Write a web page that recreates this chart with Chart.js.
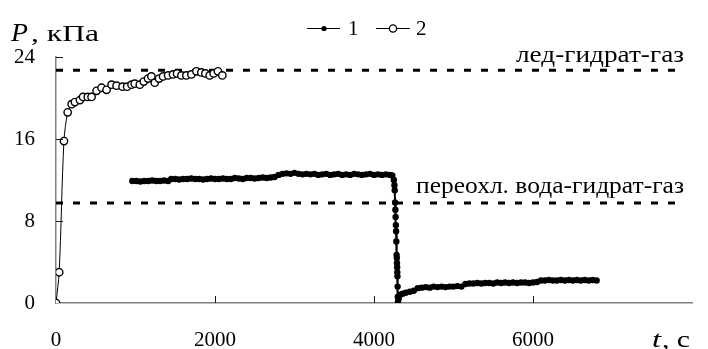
<!DOCTYPE html>
<html>
<head>
<meta charset="utf-8">
<script src="https://cdn.jsdelivr.net/npm/chart.js@4"></script>
<style>
  html, body { margin: 0; padding: 0; background: #fff; }
  #wrap { width: 708px; height: 349px; }
</style>
</head>
<body>
<div id="wrap"><canvas id="chart"></canvas></div>
<script>
// Series 1: time, s and pressure, kPa (black dots)
const series1T = [
  960, 1010, 1060, 1110, 1160, 1210, 1260, 1310, 1360, 1410,
  1450, 1500, 1550, 1600, 1650, 1700, 1750, 1800, 1850, 1900, 1950, 2000,
  2050, 2100, 2150, 2200, 2250, 2300, 2350, 2400, 2450, 2500, 2550, 2600,
  2650, 2700, 2750,
  2800, 2850, 2900, 2950, 3000, 3050, 3100, 3150, 3200, 3250, 3300, 3350,
  3400, 3450, 3500, 3550, 3600, 3650, 3700, 3750, 3800, 3850, 3900, 3950,
  4000, 4050, 4100, 4150, 4200, 4230,
  4250, 4257, 4261, 4265, 4269, 4272, 4275, 4278, 4281, 4284, 4287, 4289,
  4291, 4293, 4295, 4297, 4299, 4301,
  4310, 4330, 4360, 4400, 4450, 4500, 4550, 4600, 4650, 4700, 4750, 4800,
  4850, 4900, 4950, 5000, 5050, 5100, 5150, 5200, 5250, 5300, 5350, 5400,
  5450, 5500, 5550, 5600, 5650, 5700, 5750, 5800, 5850, 5900, 5950, 6000,
  6050, 6100, 6150, 6200, 6250, 6300, 6350, 6400, 6450, 6500, 6550, 6600,
  6650, 6700, 6750, 6800
];
const series1P = [
  11.9, 11.9, 11.85, 11.9, 11.9, 11.95, 11.9, 11.9, 11.95, 11.9,
  12.1, 12.1, 12.05, 12.1, 12.1, 12.15, 12.1, 12.1, 12.05, 12.1, 12.15, 12.1,
  12.1, 12.15, 12.1, 12.1, 12.2, 12.15, 12.1, 12.2, 12.2, 12.15, 12.2, 12.25,
  12.2, 12.25, 12.3,
  12.5, 12.6, 12.65, 12.6, 12.7, 12.6, 12.55, 12.6, 12.55, 12.6, 12.5, 12.55,
  12.6, 12.5, 12.55, 12.6, 12.5, 12.55, 12.5, 12.6, 12.55, 12.5, 12.55, 12.6,
  12.5, 12.55, 12.5, 12.55, 12.5, 12.45,
  12.0, 11.5, 11.0, 9.8, 9.1, 8.4, 7.6, 7.0, 6.0, 4.7, 4.4, 3.9,
  3.5, 3.0, 2.6, 1.6, 0.6, 0.1,
  0.4, 0.8, 0.9, 1.0, 1.1, 1.2, 1.45, 1.5, 1.55, 1.5, 1.6, 1.55,
  1.6, 1.55, 1.6, 1.6, 1.65, 1.6, 1.85, 1.9, 1.9, 1.95, 1.9, 1.95,
  1.95, 1.9, 2.0, 1.95, 2.0, 1.95, 2.0, 1.95, 2.0, 2.0, 1.95, 2.0,
  2.05, 2.2, 2.2, 2.25, 2.2, 2.2, 2.25, 2.2, 2.25, 2.2, 2.25, 2.2,
  2.25, 2.2, 2.25, 2.2
];

// Series 2: time, s and pressure, kPa (open circles)
const series2T = [
  0, 40, 100, 147, 197, 238, 301, 340, 400, 447, 510, 573, 636, 699, 762,
  837, 895, 950, 990, 1054, 1104, 1158, 1200, 1242, 1296, 1347, 1410, 1472,
  1523, 1577, 1640, 1703, 1766, 1828, 1879, 1933, 1983, 2037, 2092
];
const series2P = [
  0, 3.0, 15.8, 18.6, 19.4, 19.6, 19.8, 20.1, 20.1, 20.1, 20.7, 21.0, 20.8,
  21.3, 21.2, 21.1, 21.1, 21.3, 21.4, 21.3, 21.6, 21.9, 22.1, 21.5, 21.9,
  22.1, 22.2, 22.3, 22.4, 22.2, 22.2, 22.3, 22.6, 22.5, 22.4, 22.2, 22.4,
  22.6, 22.2
];

// Equilibrium levels (dashed lines)
const levelNames = ['лед-гидрат-газ', 'переохл. вода-гидрат-газ'];
const levelP = [22.7, 9.75];
const levelSpan = [0, 7880];

const xTicks = [0, 2000, 4000, 6000, 8000];
const yTicks = [0, 8, 16, 24];
const legendLabels = ['1', '2'];

const SERIF = '"Liberation Serif", "Times New Roman", serif';

function pairs(xs, ys) {
  return xs.map((x, i) => ({ x: x, y: ys[i] }));
}

// draw text squeezed/stretched horizontally to a given width
function fitText(c, text, x, y, width, align) {
  const w = c.measureText(text).width;
  const k = width / w;
  c.save();
  c.textAlign = 'left';
  const left = align === 'right' ? x - width : x;
  c.translate(left, y);
  c.scale(k, 1);
  c.fillText(text, 0, 0);
  c.restore();
}

// Extra drawing: inward ticks, axis titles, level labels, legend
const decorPlugin = {
  id: 'decor',
  afterDraw(chart) {
    const c = chart.ctx;
    const xs = chart.scales.x, ys = chart.scales.y;
    const area = chart.chartArea;
    c.save();
    c.strokeStyle = '#1a1a1a';
    c.lineWidth = 1;
    xTicks.slice(1, -1).forEach(v => {
      const px = Math.round(xs.getPixelForValue(v)) + 0.5;
      c.beginPath();
      c.moveTo(px, area.bottom);
      c.lineTo(px, area.bottom - 7);
      c.stroke();
    });
    yTicks.slice(1).forEach(v => {
      const py = Math.round(ys.getPixelForValue(v)) + 0.5;
      c.beginPath();
      c.moveTo(area.left, py);
      c.lineTo(area.left + 7, py);
      c.stroke();
    });

    c.fillStyle = '#000';
    c.textBaseline = 'alphabetic';
    // y axis title
    c.font = 'italic 25px ' + SERIF;
    fitText(c, 'P', 11, 41, 17);
    c.font = '24px ' + SERIF;
    fitText(c, ', кПа', 31, 41, 68);
    // x axis title
    c.font = 'italic 24px ' + SERIF;
    fitText(c, 't', 652, 347, 9);
    c.font = '24px ' + SERIF;
    fitText(c, ', c', 662, 347, 28);

    // level labels
    c.font = '23px ' + SERIF;
    fitText(c, levelNames[0], 684, 62, 168, 'right');
    fitText(c, levelNames[1], 684, 193, 268, 'right');

    // legend
    const ly = 28.5;
    c.strokeStyle = '#000';
    c.lineWidth = 1.2;
    c.beginPath(); c.moveTo(307, ly); c.lineTo(340, ly); c.stroke();
    c.beginPath(); c.arc(324, ly, 2.6, 0, Math.PI * 2); c.fill();
    c.beginPath(); c.moveTo(376, ly); c.lineTo(410, ly); c.stroke();
    c.fillStyle = '#fff';
    c.lineWidth = 1.3;
    c.beginPath(); c.arc(393, ly, 3.6, 0, Math.PI * 2); c.fill(); c.stroke();
    c.fillStyle = '#000';
    c.textAlign = 'left';
    c.textBaseline = 'middle';
    c.font = '21px ' + SERIF;
    c.fillText(legendLabels[0], 348, ly + 1);
    c.fillText(legendLabels[1], 416, ly + 1);
    c.restore();
  }
};

const ctx = document.getElementById('chart').getContext('2d');
const pressureChart = new Chart(ctx, {
  type: 'line',
  data: {
    datasets: [
      {
        label: legendLabels[0],
        data: pairs(series1T, series1P),
        borderColor: '#000',
        backgroundColor: '#000',
        borderWidth: 2,
        pointRadius: 3.2,
        pointBorderWidth: 0,
        pointBackgroundColor: '#000',
        tension: 0,
        order: 1
      },
      {
        label: legendLabels[1],
        data: pairs(series2T, series2P),
        borderColor: '#000',
        borderWidth: 1,
        pointRadius: 3.7,
        pointBorderWidth: 1.4,
        pointBorderColor: '#000',
        pointBackgroundColor: '#fff',
        tension: 0.3,
        order: 0
      },
      {
        label: levelNames[0],
        data: pairs(levelSpan, [levelP[0], levelP[0]]),
        borderColor: '#000',
        borderWidth: 3,
        borderDash: [7, 10],
        pointRadius: 0,
        order: 3
      },
      {
        label: levelNames[1],
        data: pairs(levelSpan, [levelP[1], levelP[1]]),
        borderColor: '#000',
        borderWidth: 3,
        borderDash: [7, 10],
        pointRadius: 0,
        order: 3
      }
    ]
  },
  options: {
    responsive: true,
    maintainAspectRatio: false,
    animation: false,
    layout: { padding: { top: 57, right: 16, left: 0, bottom: 0 } },
    plugins: {
      legend: { display: false },
      tooltip: { enabled: false }
    },
    scales: {
      x: {
        type: 'linear',
        min: 0,
        max: 8000,
        afterBuildTicks: s => { s.ticks = xTicks.map(v => ({ value: v })); },
        afterFit: s => { s.height = 46; s.paddingRight = 0; },
        ticks: {
          callback: v => (v === 8000 ? '' : String(v)),
          color: '#000',
          padding: 25,
          maxRotation: 0,
          autoSkip: false,
          font: { family: SERIF, size: 21 }
        },
        grid: { display: false, drawTicks: false },
        border: { display: true, color: '#808080', width: 1.5 }
      },
      y: {
        min: 0,
        max: 24,
        afterBuildTicks: s => { s.ticks = yTicks.map(v => ({ value: v })); },
        afterFit: s => { s.width = 56; },
        ticks: {
          color: '#000',
          padding: 21,
          font: { family: SERIF, size: 21 }
        },
        grid: { display: false, drawTicks: false },
        border: { display: true, color: '#808080', width: 1.5 }
      }
    }
  },
  plugins: [decorPlugin]
});
</script>
</body>
</html>
